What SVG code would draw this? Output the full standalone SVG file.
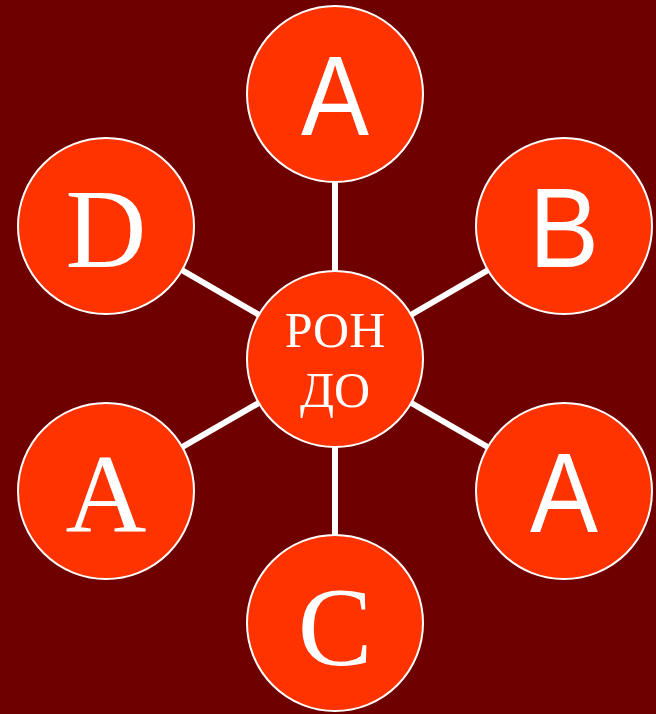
<svg xmlns="http://www.w3.org/2000/svg" width="656" height="714" viewBox="0 0 656 714">
<style>
.n{fill:#ff3300;stroke:#ffffff;stroke-width:2}
.s{font-family:"Liberation Sans",Arial,sans-serif;font-size:114px;fill:#ffffff;text-anchor:middle}
.r{font-family:"Liberation Serif","Times New Roman",serif;font-size:112px;fill:#ffffff;text-anchor:middle}
.c{font-family:"Liberation Serif","Times New Roman",serif;font-size:50px;fill:#ffffff;text-anchor:middle}
.e{stroke:#ffffff;stroke-width:6}
</style>
<rect width="656" height="714" fill="#6f0000"/>
<g id="connectors">
<line class="e" x1="335" y1="359" x2="335" y2="94"/>
<line class="e" x1="335" y1="359" x2="564" y2="226"/>
<line class="e" x1="335" y1="359" x2="564" y2="491"/>
<line class="e" x1="335" y1="359" x2="335" y2="623"/>
<line class="e" x1="335" y1="359" x2="106" y2="491"/>
<line class="e" x1="335" y1="359" x2="106" y2="226"/>
</g>
<g id="center"><circle class="n" cx="335" cy="359" r="88"/><text class="c" x="335" y="347">РОН</text><text class="c" x="335" y="407">ДО</text></g>
<g id="top-a"><circle class="n" cx="335" cy="94" r="88"/><text class="s" x="335" y="135" textLength="68" lengthAdjust="spacingAndGlyphs">A</text></g>
<g id="b"><circle class="n" cx="564" cy="226" r="88"/><text class="s" x="564" y="267" textLength="70" lengthAdjust="spacingAndGlyphs">B</text></g>
<g id="right-a"><circle class="n" cx="564" cy="491" r="88"/><text class="s" x="564" y="532" textLength="68" lengthAdjust="spacingAndGlyphs">A</text></g>
<g id="c"><circle class="n" cx="335" cy="623" r="88"/><text class="r" x="335" y="665">C</text></g>
<g id="left-a"><circle class="n" cx="106" cy="491" r="88"/><text class="r" x="106" y="532">A</text></g>
<g id="d"><circle class="n" cx="106" cy="226" r="88"/><text class="r" x="106" y="267">D</text></g>
</svg>
